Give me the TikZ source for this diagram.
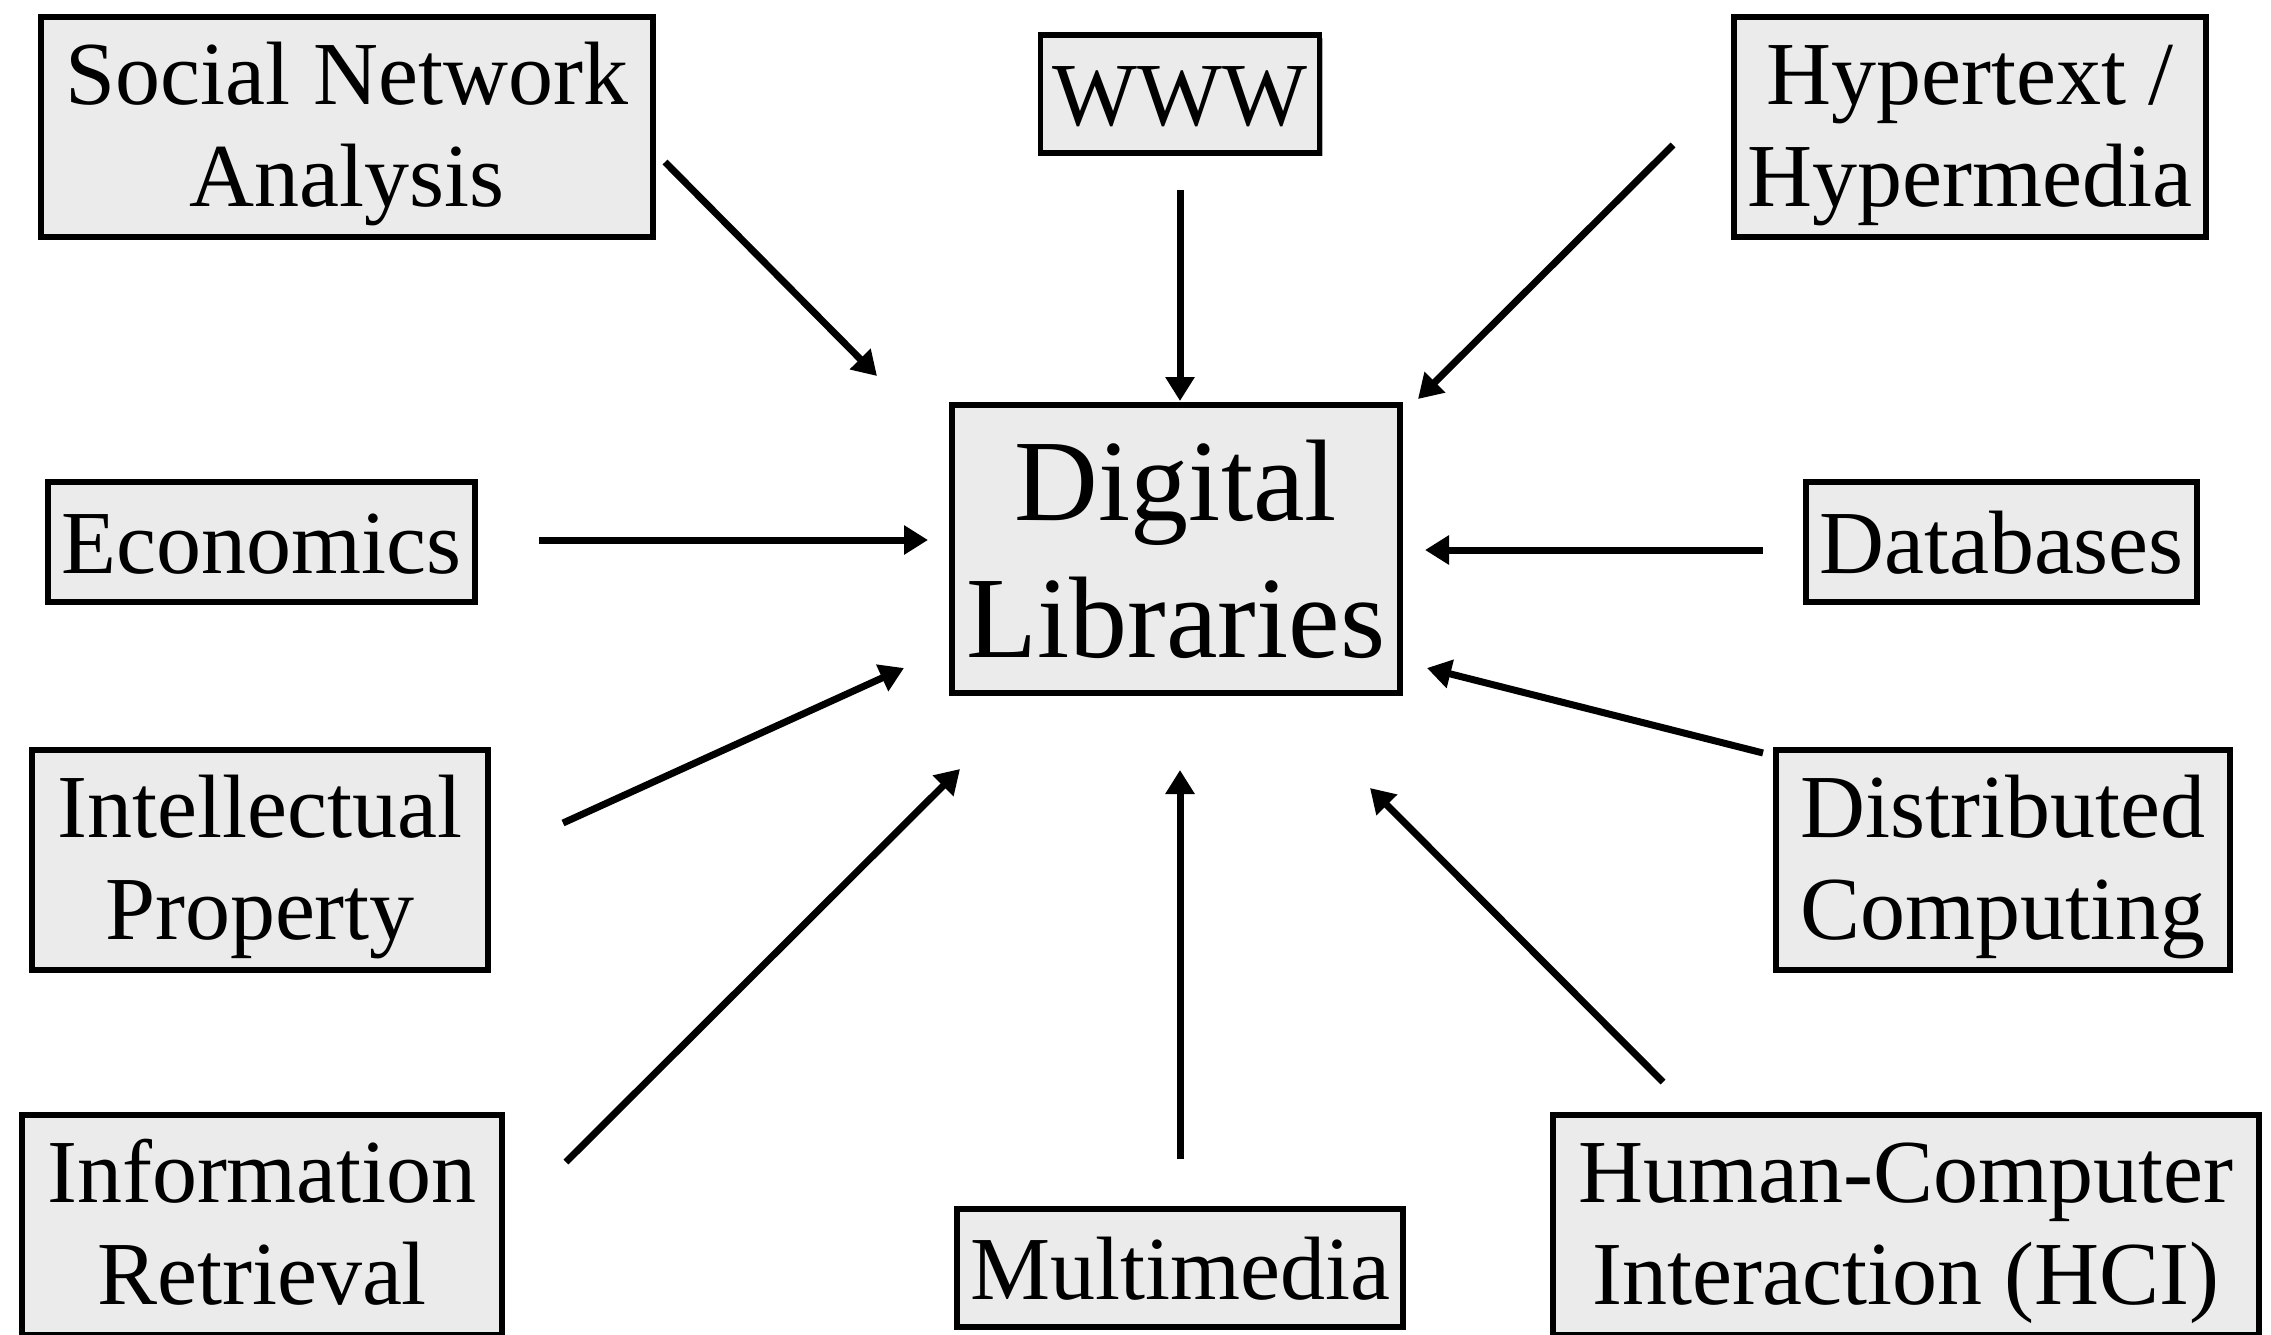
\documentclass[tikz,border=0pt]{standalone}
\usepackage{fontspec}
\setmainfont{Liberation Serif}
\usetikzlibrary{arrows.meta,shadows}
\definecolor{boxgray}{RGB}{235,235,235}
\newdimen\px \px=0.5pt
\newcommand{\twolines}[2]{\vbox{\halign{\hfil##\hfil\cr#1\cr#2\cr}}}
\tikzset{
  topic/.style={draw=black, line width=2.75pt, fill=boxgray, inner sep=0pt,
    drop shadow={shadow xshift=1.5pt, shadow yshift=-1.5pt, opacity=0.3, fill=black},
    font=\fontsize{45pt}{51pt}\selectfont},
  oneline/.style={topic, text height=40pt, text depth=9pt},
  twoline/.style={topic, text height=90pt, text depth=11pt},
  bigbox/.style={topic, font=\fontsize{58pt}{68.5pt}\selectfont, text height=120pt, text depth=12pt},
  arr/.style={line width=3.5pt, -{Triangle[length=12pt,width=14pt]}},
}
\begin{document}
\begin{tikzpicture}[x=0.5pt,y=-0.5pt]
\useasboundingbox (0,0) rectangle (2271,1334);
\fill[white] (0,0) rectangle (2271,1334);
\clip (0,0) rectangle (2271,1334);
% boxes
\node[twoline, minimum width=612\px, minimum height=220\px] (sna) at (347,127) {\twolines{Social Network}{Analysis}};
\node[oneline, minimum width=279\px, minimum height=118\px] (www) at (1180,94) {WWW};
\node[twoline, minimum width=472\px, minimum height=220\px] (hyp) at (1970,127) {\twolines{Hypertext /}{Hypermedia}};
\node[bigbox, minimum width=448\px, minimum height=288\px] (dl) at (1176,549) {\twolines{Digital}{Libraries}};
\node[oneline, minimum width=427\px, minimum height=120\px] (eco) at (261.5,542) {Economics};
\node[oneline, minimum width=391\px, minimum height=120\px] (db) at (2001.5,542) {Databases};
\node[twoline, minimum width=456\px, minimum height=220\px] (ip) at (260,860) {\twolines{Intellectual}{Property}};
\node[twoline, minimum width=454\px, minimum height=220\px] (dc) at (2003,860) {\twolines{Distributed}{Computing}};
\node[twoline, minimum width=480\px, minimum height=220\px] (ir) at (262,1225) {\twolines{Information}{Retrieval}};
\node[oneline, minimum width=446\px, minimum height=118\px] (mm) at (1180,1268) {Multimedia};
\node[twoline, minimum width=706\px, minimum height=220\px] (hci) at (1906,1225) {\twolines{Human-Computer}{Interaction (HCI)}};
% arrow ends
\coordinate (snaS) at (665,162);   \coordinate (snaT) at (877,376);
\coordinate (wwwS) at (1180,190);  \coordinate (wwwT) at (1180,401);
\coordinate (hypS) at (1673,145);  \coordinate (hypT) at (1418,399);
\coordinate (ecoS) at (539,540);   \coordinate (ecoT) at (928,540);
\coordinate (dbS) at (1763,550);   \coordinate (dbT) at (1425,550);
\coordinate (ipS) at (563,823);    \coordinate (ipT) at (904,668);
\coordinate (dcS) at (1763,753);   \coordinate (dcT) at (1427,668);
\coordinate (irS) at (566,1162);   \coordinate (irT) at (960,769);
\coordinate (mmS) at (1180,1159);  \coordinate (mmT) at (1180,770);
\coordinate (hciS) at (1663,1082); \coordinate (hciT) at (1370,788);
% arrows
\draw[arr] (snaS) -- (snaT);
\draw[arr] (wwwS) -- (wwwT);
\draw[arr] (hypS) -- (hypT);
\draw[arr] (ecoS) -- (ecoT);
\draw[arr] (dbS) -- (dbT);
\draw[arr] (ipS) -- (ipT);
\draw[arr] (dcS) -- (dcT);
\draw[arr] (irS) -- (irT);
\draw[arr] (mmS) -- (mmT);
\draw[arr] (hciS) -- (hciT);
\end{tikzpicture}
\end{document}
